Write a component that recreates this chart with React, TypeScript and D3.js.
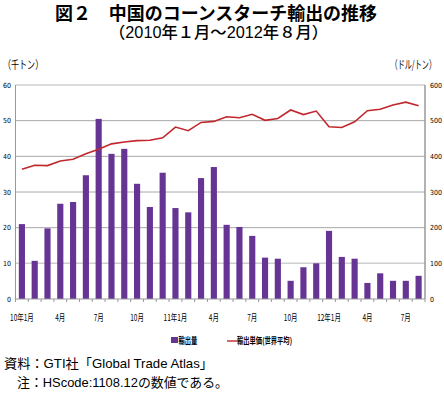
import React, { useEffect, useRef } from 'react';
import * as d3 from 'd3';

// months 2010/1 .. 2012/8
const months = d3.range(32).map(i => `${2010 + Math.floor(i / 12)}-${(i % 12) + 1}`);

// export volume (thousand tons)
const volume = [
  21.0, 10.7, 19.8, 26.7, 27.2, 34.7, 50.5, 40.7, 42.1, 32.3, 25.8, 35.4,
  25.5, 24.3, 33.9, 37.0, 20.8, 20.2, 17.7, 11.6, 11.3, 5.1, 8.9, 10.0,
  19.1, 11.8, 11.3, 4.5, 7.2, 5.1, 5.1, 6.5,
];

// export unit price, world average (USD/ton)
const price = [
  364, 375, 374, 387, 392, 407, 420, 435, 440, 444, 445, 452,
  482, 472, 495, 498, 511, 508, 518, 501, 506, 530, 517, 527,
  483, 481, 497, 528, 532, 544, 552, 542,
];

const xLabels = ['10年1月', '', '', '4月', '', '', '7月', '', '', '10月', '', '',
  '11年1月', '', '', '4月', '', '', '7月', '', '', '10月', '', '',
  '12年1月', '', '', '4月', '', '', '7月', ''];

const leftTicks = [0, 10, 20, 30, 40, 50, 60];
const rightTicks = [0, 100, 200, 300, 400, 500, 600];

const JP = '"Liberation Sans", "Noto Sans CJK JP", sans-serif';
const NARROW = '"Liberation Sans Narrow", "DejaVu Sans Condensed", "Noto Sans CJK JP", sans-serif';
const PURPLE = '#663594';
const RED = '#c1272d';

const App = () => {
  const ref = useRef<SVGSVGElement>(null);

  useEffect(() => {
    const svg = d3.select(ref.current);
    svg.selectAll('*').remove();

    const left = 15.5, right = 425, top = 85, bottom = 299;

    const x = d3.scaleBand().domain(months).range([left, right]).paddingInner(0.52).paddingOuter(0.26);
    const yL = d3.scaleLinear().domain([0, 60]).range([bottom, top]);
    const yR = d3.scaleLinear().domain([0, 600]).range([bottom, top]);

    // condensed text helper (the source uses a narrow face)
    const narrow = (g: any, tx: number, ty: number, s: string, size: number, anchor = 'start', sx = 0.72, weight: any = 'normal') =>
      g.append('text')
        .attr('transform', `translate(${tx},${ty}) scale(${sx},1)`)
        .attr('text-anchor', anchor)
        .style('font-family', '"Noto Sans CJK JP", sans-serif')
        .style('font-size', `${size}px`)
        .style('font-weight', weight)
        .text(s);

    // title
    svg.append('text').attr('x', 55).attr('y', 20)
      .attr('textLength', 322).attr('lengthAdjust', 'spacingAndGlyphs')
      .style('font-family', JP).style('font-size', '18px').style('font-weight', 'bold')
      .text('図２　中国のコーンスターチ輸出の推移');
    svg.append('text').attr('x', 109).attr('y', 37.5)
      .attr('textLength', 219).attr('lengthAdjust', 'spacingAndGlyphs')
      .style('font-family', JP).style('font-size', '16px').style('font-weight', 500)
      .text('（2010年１月～2012年８月）');

    // unit labels
    narrow(svg, 3, 68.5, '（千トン）', 11.5, 'start', 0.7);
    narrow(svg, 436, 68.5, '（ドル/トン）', 11.5, 'end', 0.62);

    // grid
    svg.append('g').selectAll('line').data(leftTicks.slice(1)).enter().append('line')
      .attr('x1', left).attr('x2', right)
      .attr('y1', d => yL(d)).attr('y2', d => yL(d))
      .attr('stroke', d => (d === 60 || d === 10 ? '#cfcfcf' : '#a8a8a8'))
      .attr('stroke-width', d => (d === 60 || d === 10 ? 1.5 : 1));

    // bars
    svg.append('g').selectAll('rect').data(volume).enter().append('rect')
      .attr('x', (d, i) => x(months[i])!)
      .attr('y', d => yL(d))
      .attr('width', x.bandwidth())
      .attr('height', d => bottom - yL(d))
      .attr('fill', PURPLE);

    // price line
    const line = d3.line<number>()
      .x((d, i) => x(months[i])! + x.bandwidth() / 2)
      .y(d => yR(d));
    svg.append('path').datum(price)
      .attr('d', line)
      .attr('fill', 'none')
      .attr('stroke', RED)
      .attr('stroke-width', 1.6);

    // axes
    const axisColor = '#999';
    svg.append('line').attr('x1', left).attr('x2', left).attr('y1', top).attr('y2', bottom)
      .attr('stroke', axisColor);
    svg.append('line').attr('x1', right).attr('x2', right).attr('y1', top).attr('y2', bottom)
      .attr('stroke', axisColor).attr('stroke-width', 1.5);
    svg.append('line').attr('x1', left).attr('x2', right).attr('y1', bottom).attr('y2', bottom)
      .attr('stroke', axisColor);

    // x tick marks at band boundaries
    const step = x.step();
    svg.append('g').selectAll('line').data(d3.range(33)).enter().append('line')
      .attr('x1', i => left + i * step).attr('x2', i => left + i * step)
      .attr('y1', bottom).attr('y2', bottom + 3)
      .attr('stroke', axisColor);

    // x labels
    const xg = svg.append('g');
    xLabels.forEach((s, i) => {
      if (s) narrow(xg, x(months[i])! + x.bandwidth() / 2, 321, s, 9, 'middle', 0.72);
    });

    // y tick labels
    svg.append('g').selectAll('text').data(leftTicks).enter().append('text')
      .attr('x', 11).attr('y', d => yL(d) + 2.5).attr('text-anchor', 'end')
      .style('font-family', NARROW).style('font-size', '7px')
      .text(d => d);
    svg.append('g').selectAll('text').data(rightTicks).enter().append('text')
      .attr('x', 430).attr('y', d => yR(d) + 2.5)
      .style('font-family', NARROW).style('font-size', '7px')
      .text(d => d);

    // legend
    const lg = svg.append('g').attr('transform', 'translate(171,340)');
    lg.append('rect').attr('x', 0).attr('y', -3).attr('width', 7).attr('height', 6).attr('fill', PURPLE);
    narrow(lg, 7.5, 3.5, '輸出量', 9, 'start', 0.7, 'bold');
    lg.append('line').attr('x1', 56).attr('x2', 66).attr('y1', 1).attr('y2', 1)
      .attr('stroke', RED).attr('stroke-width', 1.4);
    narrow(lg, 66, 3.5, '輸出単価(世界平均)', 9, 'start', 0.7, 'bold');

    // source / note
    svg.append('text').attr('x', 4).attr('y', 368)
      .attr('textLength', 209).attr('lengthAdjust', 'spacingAndGlyphs')
      .style('font-family', JP).style('font-size', '13px')
      .text('資料：GTI社「Global Trade Atlas」');
    svg.append('text').attr('x', 17).attr('y', 386.5)
      .attr('textLength', 211).attr('lengthAdjust', 'spacingAndGlyphs')
      .style('font-family', JP).style('font-size', '13px')
      .text('注：HScode:1108.12の数値である。');
  }, []);

  return (
    <svg ref={ref} width={444} height={393}
      style={{ position: 'absolute', left: 0, top: 0, background: '#fff' }} />
  );
};

export default App;
